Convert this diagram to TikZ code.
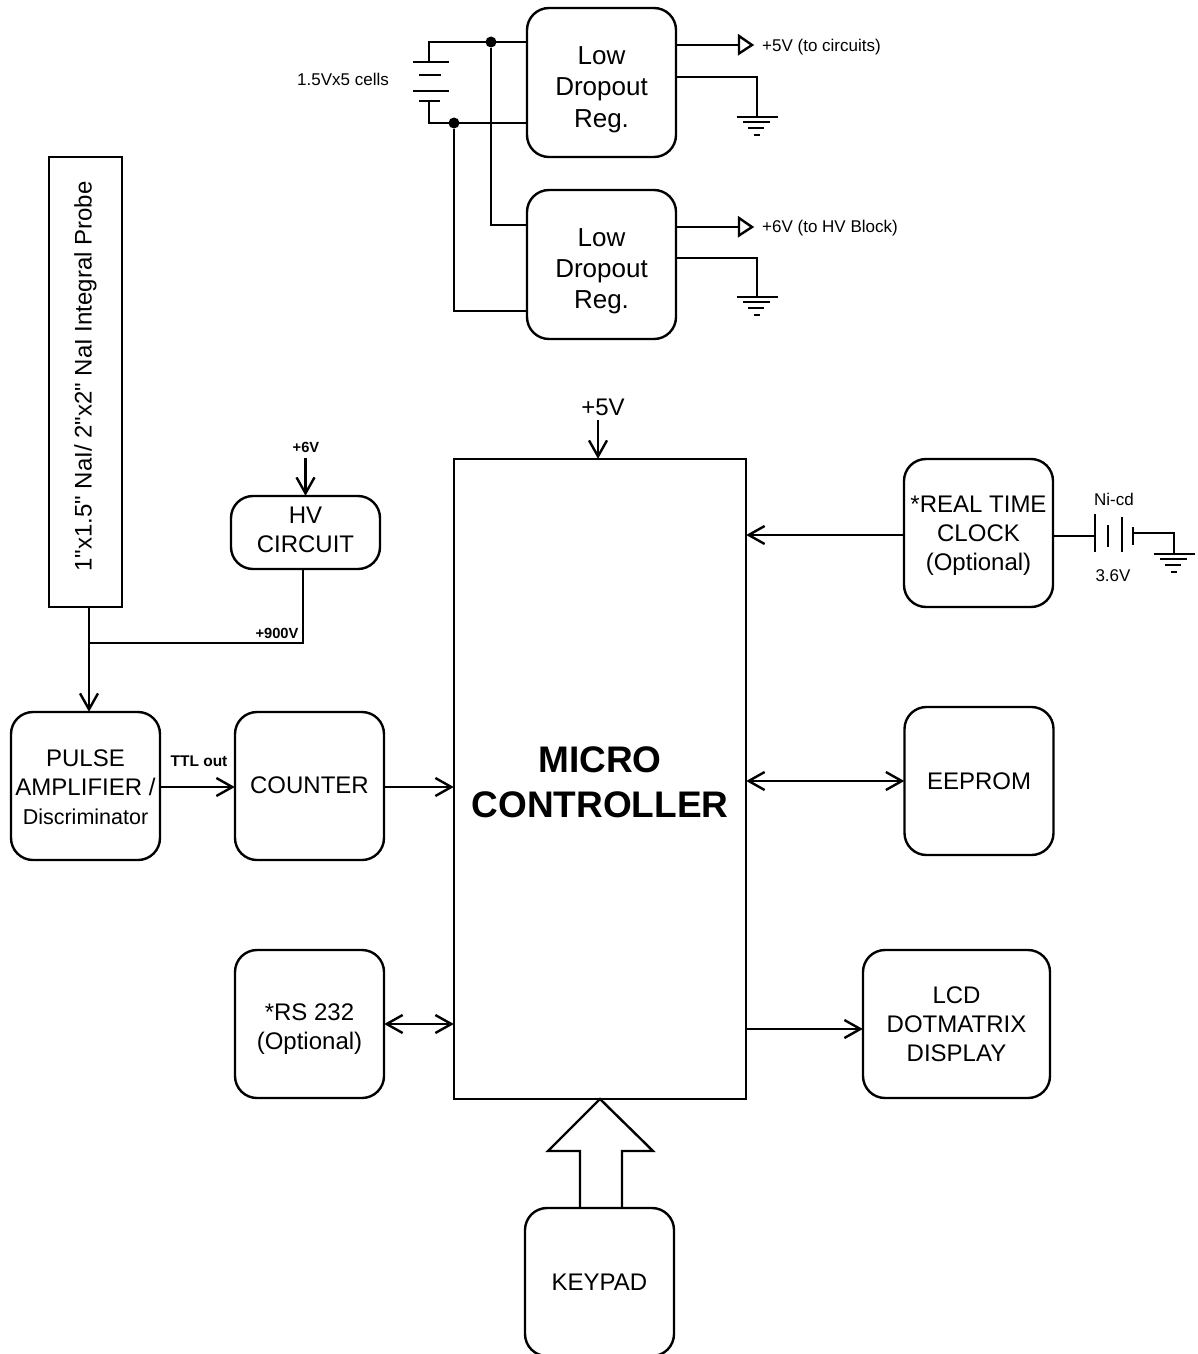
\documentclass[tikz,border=0pt]{standalone}
\usepackage{fontspec}
\setmainfont{Liberation Sans}[Ligatures=TeXOff]
\usetikzlibrary{arrows.meta}
\newcommand{\fs}[1]{\fontsize{#1}{1.2\dimexpr #1pt\relax}\selectfont}
\newcommand{\up}[1]{\rule{0pt}{#1pt}}
\tikzset{
  barb/.tip={Straight Barb[length=16pt,width=18pt,line width=2.4pt]},
  wire/.style={line width=2.4pt,line cap=butt,line join=miter},
  arr/.style={wire,shorten >=-1pt,-barb},
  darr/.style={wire,shorten >=-1pt,shorten <=-1pt,barb-barb},
  box/.style={draw,line width=2.4pt,rounded corners=22pt,inner sep=0pt,align=center,font=\fs{24}},
  ldo/.style={box,minimum width=149pt,minimum height=149pt,font=\fs{26}},
  sq/.style={box,minimum width=149pt,minimum height=148pt},
  lbl/.style={inner sep=0pt,font=\fs{17}},
  blbl/.style={inner sep=0pt,font=\fs{14.7}\bfseries},
  dot/.style={circle,fill=black,inner sep=0pt,minimum size=11pt},
  tri/.style={draw,line width=2.4pt,line join=miter,fill=white},
  gnd/.pic={
    \draw[wire] (-20.5,0) -- (20.5,0);
    \draw[wire] (-14,5) -- (13,5);
    \draw[wire] (-9,11) -- (7,11);
    \draw[wire] (-3,18) -- (3,18);
  }
}
\begin{document}
\begin{tikzpicture}[x=1pt,y=-1pt]
\useasboundingbox[fill=white] (0,0) rectangle (1198,1354);
% boxes
\node[ldo] (ldoa) at (601.5,82.5) {\up{32}Low\\Dropout\\Reg.};
\node[ldo] (ldob) at (601.5,264.5) {\up{31}Low\\Dropout\\Reg.};
\node[draw,line width=2.4pt,minimum width=73pt,minimum height=450pt,inner sep=0pt] (probe) at (85.5,382) {};
\node[rotate=90,inner sep=0pt,font=\fs{24}] (probetext) at (85.5,376.5) {1"x1.5" NaI/ 2"x2" NaI Integral Probe};
\node[box,minimum width=149pt,minimum height=73pt] (hv) at (305.5,532.5) {HV\\CIRCUIT\rule[-6pt]{0pt}{6pt}};
\node[sq] (pulse) at (85.5,786) {\up{19.5}PULSE\\AMPLIFIER /\\{\fs{21.5}Discriminator}};
\node[sq] (counter) at (309.5,786) {COUNTER\rule[-2pt]{0pt}{2pt}};
\node[sq] (rs) at (309.5,1024) {\up{27.5}*RS 232\\(Optional)};
\node[draw,line width=2.4pt,minimum width=292pt,minimum height=640pt,inner sep=0pt,align=center,font=\fs{37}\bfseries] (mcu) at (600,779) {\up{32.5}MICRO\\CONTROLLER};
\node[sq] (rtc) at (978.5,533) {\up{21.5}*REAL TIME\\CLOCK\\(Optional)};
\node[sq] (eeprom) at (979,781) {EEPROM};
\node[box,minimum width=187pt,minimum height=148pt] (lcd) at (956.5,1024) {LCD\\DOTMATRIX\\DISPLAY};
\node[sq] (keypad) at (599.5,1282) {KEYPAD};
% battery
\coordinate (btop) at (429,42);
\coordinate (bbot) at (429,123);
\node[dot] (da) at (491,42) {};
\node[dot] (db) at (454,123) {};
\draw[wire] (429,62) -- (btop) -- (ldoa.west |- btop);
\draw[wire] (429,101) -- (bbot) -- (ldoa.west |- bbot);
\draw[wire] (413,62) -- (449,62);
\draw[wire] (419,75) -- (441,75);
\draw[wire] (413,91) -- (449,91);
\draw[wire] (419,101) -- (440,101);
\draw[wire] (da) |- (ldob.west |- 0,225);
\draw[wire] (db) |- (ldob.west |- 0,311);
\node[lbl] (blabel) at (343,79.5) {1.5Vx5 cells};
% regulator outputs
\coordinate (va) at (739,45);
\coordinate (vb) at (739,227);
\draw[wire] (ldoa.east |- va) -- (va);
\draw[wire] (ldob.east |- vb) -- (vb);
\draw[tri] (739,36) -- (752,45) -- (739,53.5) -- cycle;
\draw[tri] (739,218) -- (752,227) -- (739,235.5) -- cycle;
\node[lbl,anchor=west] (vatext) at (762,47) {+5V (to circuits)};
\node[lbl,anchor=west] (vbtext) at (762,228) {+6V (to HV Block)};
\coordinate (ga) at (757,117);
\coordinate (gb) at (757,297);
\draw[wire] (ldoa.east |- 0,77) -| (ga);
\draw[wire] (ldob.east |- 0,258) -| (gb);
\pic at (ga) {gnd};
\pic at (gb) {gnd};
% controller connections
\coordinate (vcc) at (598,420);
\node[inner sep=0pt,font=\fs{24}] (vcctext) at (603,407) {+5V};
\draw[arr] (vcc) -- (mcu.north -| vcc);
\node[blbl] (sixv) at (306,447) {+6V};
\coordinate (hvin) at (305.5,458);
\draw[arr] (hvin) -- (hv.north -| hvin);
\node[blbl] (ninev) at (277,633) {+900V};
\coordinate (junc) at (89,643);
\draw[wire] (hv.south -| 303,0) |- (junc);
\draw[arr] (probe.south -| junc) -- (pulse.north -| junc);
\node[blbl,font=\fs{15.5}\bfseries] (ttl) at (199,761) {TTL out};
\draw[arr] (pulse.east |- 0,787) -- (counter.west |- 0,787);
\draw[arr] (counter.east |- 0,787) -- (mcu.west |- 0,787);
\draw[arr] (rtc.west |- 0,535) -- (mcu.east |- 0,535);
\draw[darr] (mcu.east |- 0,781) -- (eeprom.west |- 0,781);
\draw[arr] (mcu.east |- 0,1029) -- (lcd.west |- 0,1029);
\draw[darr] (rs.east |- 0,1024) -- (mcu.west |- 0,1024);
% keypad block arrow
\draw[wire] (580,1208) -- (580,1151) -- (548,1151) -- (600,1099) -- (653,1151) -- (622,1151) -- (622,1208);
% RTC cell
\draw[wire] (rtc.east |- 0,536) -- (1095,536);
\draw[wire] (1095,514) -- (1095,552);
\draw[wire] (1108,525) -- (1108,547);
\draw[wire] (1122,517) -- (1122,552);
\draw[wire] (1133,527) -- (1133,545);
\coordinate (gc) at (1174,554);
\draw[wire] (1133,533) -| (gc);
\pic at (gc) {gnd};
\node[lbl] (nicd) at (1114,499) {Ni-cd};
\node[lbl] (volt) at (1113,576) {3.6V};
\end{tikzpicture}
\end{document}
